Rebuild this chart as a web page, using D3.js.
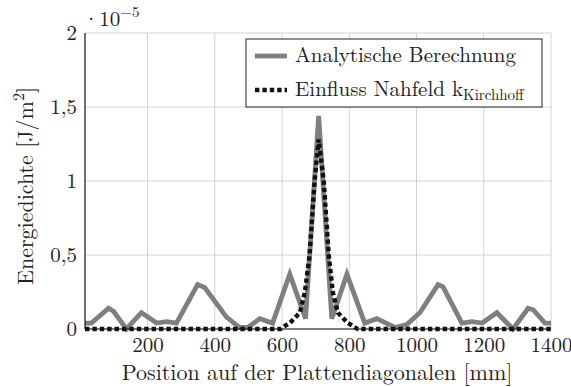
<!DOCTYPE html>
<html>
<head>
<meta charset="utf-8">
<script src="https://cdn.jsdelivr.net/npm/d3@7"></script>
<style>
  body { margin: 0; background: #fff; }
</style>
</head>
<body>
<div id="chart"></div>
<script>
// position along the diagonal in mm, energy density in 1e-5 J/m^2
const analyticX = [14, 33, 84, 99, 137, 182, 227, 257, 286, 349, 370, 435, 474, 498, 534, 572, 623, 670, 709,
  748, 793, 846, 882, 936, 971, 1010, 1064, 1079, 1135, 1165, 1195, 1239, 1287, 1332, 1347, 1382, 1400];
const analyticY = [0.04, 0.04, 0.14, 0.12, 0.0, 0.11, 0.04, 0.05, 0.04, 0.30, 0.28, 0.08, 0.01, 0.01, 0.07, 0.04, 0.37, 0.07, 1.44,
  0.07, 0.37, 0.04, 0.07, 0.01, 0.03, 0.11, 0.30, 0.285, 0.04, 0.05, 0.04, 0.11, 0.0, 0.14, 0.13, 0.04, 0.04];

const nahfeldX = [14, 596, 608, 623, 653, 668, 682, 697, 709, 724, 739, 751, 766, 796, 811, 825, 1400];
const nahfeldY = [0, 0, 0.02, 0.04, 0.11, 0.25, 0.5, 1.0, 1.28, 1.0, 0.5, 0.25, 0.11, 0.04, 0.02, 0, 0];

const xTicks = [200, 400, 600, 800, 1000, 1200, 1400];
const yTicks = [0, 0.5, 1, 1.5, 2];

const W = 571, H = 387;
const margin = { top: 33, right: 20, bottom: 58, left: 85 };
const width = W - margin.left - margin.right;
const height = H - margin.top - margin.bottom;
const FONT = "'Latin Modern Roman', 'Liberation Serif', serif";
const INK = '#222';

const svg = d3.select('#chart').append('svg')
  .attr('width', W)
  .attr('height', H);

const g = svg.append('g')
  .attr('transform', `translate(${margin.left},${margin.top})`);

const x = d3.scaleLinear().domain([14, 1400]).range([0, width]);
const y = d3.scaleLinear().domain([0, 2]).range([height, 0]);

const fmt = (d) => String(d).replace('.', ',');

// grid
g.append('g')
  .selectAll('line')
  .data(xTicks)
  .enter()
  .append('line')
  .attr('x1', (d) => x(d))
  .attr('x2', (d) => x(d))
  .attr('y1', 0)
  .attr('y2', height)
  .style('stroke', '#d2d2d2')
  .style('stroke-width', 1);

g.append('g')
  .selectAll('line')
  .data(yTicks)
  .enter()
  .append('line')
  .attr('x1', 0)
  .attr('x2', width)
  .attr('y1', (d) => y(d))
  .attr('y2', (d) => y(d))
  .style('stroke', '#d2d2d2')
  .style('stroke-width', 1);

// axes
const xAxis = g.append('g')
  .attr('transform', `translate(0,${height})`)
  .call(d3.axisBottom(x).tickValues(xTicks).tickSize(0).tickPadding(8).tickFormat(d3.format('d')));
const yAxis = g.append('g')
  .call(d3.axisLeft(y).tickValues(yTicks).tickSize(0).tickPadding(8).tickFormat(fmt));

[xAxis, yAxis].forEach((a) => {
  a.attr('font-family', null);
  a.select('.domain').remove();
  a.selectAll('text')
    .style('font-family', FONT)
    .style('font-size', '21px')
    .style('fill', INK);
});

// lines
const line = d3.line().x((d) => x(d[0])).y((d) => y(d[1]));

g.append('path')
  .datum(d3.zip(analyticX, analyticY))
  .attr('d', line)
  .style('fill', 'none')
  .style('stroke', '#7f7f7f')
  .style('stroke-width', 4.8);

g.append('path')
  .datum(d3.zip(nahfeldX, nahfeldY))
  .attr('d', line)
  .style('fill', 'none')
  .style('stroke', '#111')
  .style('stroke-width', 4.4)
  .style('stroke-dasharray', '4.4,3');

// axis lines (left and bottom)
g.append('line')
  .attr('x1', 0).attr('x2', 0).attr('y1', 0).attr('y2', height)
  .style('stroke', '#111').style('stroke-width', 1.2);
g.append('line')
  .attr('x1', 0).attr('x2', width).attr('y1', height).attr('y2', height)
  .style('stroke', '#111').style('stroke-width', 1.2);

// scale factor
const sf = svg.append('text')
  .attr('x', 83)
  .attr('y', 26)
  .style('font-family', FONT)
  .style('font-size', '21px')
  .style('fill', INK);
sf.append('tspan').text('·10');
sf.append('tspan').attr('dy', -9).style('font-size', '15px').text('−5');

// axis titles
svg.append('text')
  .attr('x', (margin.left + W - margin.right) / 2 - 1)
  .attr('y', 380)
  .attr('text-anchor', 'middle')
  .style('font-family', FONT)
  .style('font-size', '22px')
  .style('fill', INK)
  .text('Position auf der Plattendiagonalen [mm]');

const yl = svg.append('text')
  .attr('transform', `translate(33,186) rotate(-90)`)
  .attr('text-anchor', 'middle')
  .style('font-family', FONT)
  .style('font-size', '22px')
  .style('fill', INK);
yl.append('tspan').text('Energiedichte [J/m');
yl.append('tspan').attr('dy', -9).style('font-size', '16px').text('2');
yl.append('tspan').attr('dy', 9).text(']');

// legend
const legend = svg.append('g').attr('transform', 'translate(246,39)');
legend.append('rect')
  .attr('width', 296)
  .attr('height', 68)
  .style('fill', '#fff')
  .style('stroke', '#222')
  .style('stroke-width', 1);

legend.append('line')
  .attr('x1', 9).attr('x2', 41).attr('y1', 17).attr('y2', 17)
  .style('stroke', '#7f7f7f').style('stroke-width', 4.8);
legend.append('text')
  .attr('x', 49).attr('y', 23)
  .style('font-family', FONT)
  .style('font-size', '21px').style('fill', INK)
  .text('Analytische Berechnung');

legend.append('line')
  .attr('x1', 9).attr('x2', 41).attr('y1', 51).attr('y2', 51)
  .style('stroke', '#111').style('stroke-width', 4.4).style('stroke-dasharray', '4.4,3');
const t2 = legend.append('text')
  .attr('x', 49).attr('y', 57)
  .style('font-family', FONT)
  .style('font-size', '21px').style('fill', INK);
t2.append('tspan').text('Einfluss Nahfeld k');
t2.append('tspan').attr('dy', 4).style('font-size', '15px').text('Kirchhoff');
</script>
</body>
</html>
